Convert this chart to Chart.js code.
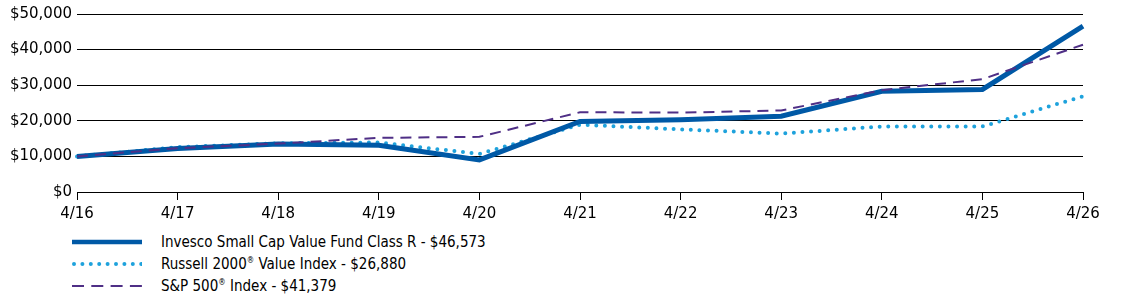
<!DOCTYPE html>
<html>
<head>
<meta charset="utf-8">
<script src="https://cdn.jsdelivr.net/npm/chart.js@4.4.1/dist/chart.umd.min.js"></script>
<style>
  body { margin: 0; background: #fff; width: 1123px; height: 304px; overflow: hidden; }
  #wrap { position: absolute; left: 0; top: 0; width: 1123px; height: 228px; }
  #legend { position: absolute; left: 72px; top: 231px; font-family: "DejaVu Sans Condensed", "DejaVu Sans", sans-serif; font-size: 15px; color: #000; }
  .row { height: 22px; display: flex; align-items: center; }
  .row svg { width: 70px; height: 10px; margin-right: 19px; }
  sup { font-size: 0.55em; line-height: 0; vertical-align: 0.7em; }
</style>
</head>
<body>
<div id="wrap"><canvas id="lienzo"></canvas></div>
<div id="legend"></div>
<script>
const labels = ["4/16","4/17","4/18","4/19","4/20","4/21","4/22","4/23","4/24","4/25","4/26"]
const fundValues = [10000,12200,13500,13100,9000,19800,20300,21300,28300,28800,46573]
const russellValues = [10000,12600,13700,13900,10700,18900,17600,16400,18400,18400,26880]
const spValues = [10000,12300,13600,15200,15500,22400,22300,22900,28600,31700,41379]
const yTicks = [0,10000,20000,30000,40000,50000]

const names = ["Invesco Small Cap Value Fund Class R - $46,573", "Russell 2000<sup>®</sup> Value Index - $26,880", "S&amp;P 500<sup>®</sup> Index - $41,379"]

const fundColor = "#0059a6"
const russellColor = "#1ea2dc"
const spColor = "#4f2f86"

const fmt = v => "$" + v.toLocaleString("en-US")

new Chart(document.getElementById("lienzo"), {
    type: "line",
    data: {
        labels: labels,
        datasets: [
            { label: "Fund", data: fundValues, borderColor: fundColor, borderWidth: 5, pointRadius: 0, order: 2, borderJoinStyle: "miter" },
            { label: "Russell", data: russellValues, borderColor: russellColor, borderWidth: 4, borderDash: [0, 8.6], borderCapStyle: "round", pointRadius: 0, order: 3 },
            { label: "SP", data: spValues, borderColor: spColor, borderWidth: 2, borderDash: [11, 7], pointRadius: 0, order: 1 }
        ]
    },
    options: {
        responsive: true,
        maintainAspectRatio: false,
        animation: false,
        events: [],
        layout: { padding: { top: 13, right: 40, left: 0, bottom: 0 } },
        plugins: { legend: { display: false }, tooltip: { enabled: false } },
        scales: {
            x: {
                offset: false,
                grid: { drawOnChartArea: false, drawTicks: true, tickLength: 8, color: "#000", lineWidth: 1 },
                border: { display: true, color: "#000", width: 1 },
                ticks: { color: "#000", font: { family: "DejaVu Sans", size: 15 }, padding: 5, maxRotation: 0, autoSkip: false }
            },
            y: {
                min: 0, max: 50000,
                afterBuildTicks: s => { s.ticks = yTicks.map(v => ({ value: v })) },
                afterFit: s => { s.width = 77 },
                grid: { drawTicks: false, color: "#000", lineWidth: 1 },
                border: { display: false },
                ticks: { color: "#000", font: { family: "DejaVu Sans", size: 15 }, padding: 5, callback: v => fmt(v) }
            }
        }
    }
})

// legend
const legend = document.getElementById("legend")
const samples = [
    `<line x1="0" y1="5" x2="70" y2="5" stroke="${fundColor}" stroke-width="4.5"/>`,
    `<line x1="2" y1="5" x2="70" y2="5" stroke="${russellColor}" stroke-width="4" stroke-dasharray="0 8.4" stroke-linecap="round"/>`,
    `<line x1="0" y1="5" x2="70" y2="5" stroke="${spColor}" stroke-width="2" stroke-dasharray="12 7.3"/>`
]
names.forEach((n, i) => {
    const row = document.createElement("div")
    row.className = "row"
    row.innerHTML = `<svg viewBox="0 0 70 10">${samples[i]}</svg><span>${n}</span>`
    legend.appendChild(row)
})
</script>
</body>
</html>
